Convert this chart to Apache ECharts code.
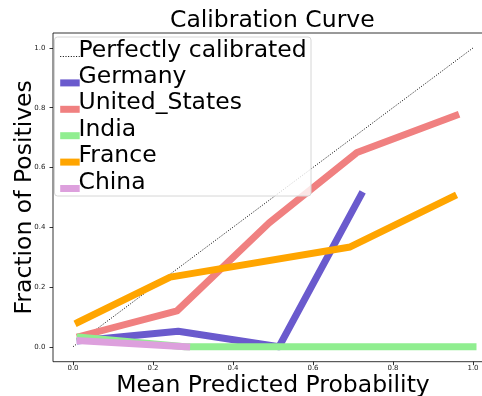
<!DOCTYPE html>
<html>
<head>
<meta charset="utf-8">
<script src="https://cdn.jsdelivr.net/npm/echarts@6/dist/echarts.min.js"></script>
<style>
  html, body { margin: 0; padding: 0; background: #fff; }
  #chart { width: 482px; height: 396px; }
</style>
</head>
<body>
<div id="chart"></div>
<script>
// Reliability diagram: mean predicted probability vs. observed fraction of positives
const tickValues = [0.0, 0.2, 0.4, 0.6, 0.8, 1.0];

const perfectX = [0, 1];
const perfectY = [0, 1];

const germanyX = [0.018, 0.263, 0.515, 0.72];
const germanyY = [0.02, 0.052, 0.0, 0.508];

const usX = [0.018, 0.26, 0.49, 0.71, 0.957];
const usY = [0.035, 0.12, 0.414, 0.65, 0.774];

const indiaX = [0.018, 0.28, 1.0];
const indiaY = [0.032, 0.0, 0.0];

const franceX = [0.013, 0.243, 0.693, 0.951];
const franceY = [0.082, 0.233, 0.334, 0.503];

const chinaX = [0.018, 0.284];
const chinaY = [0.02, 0.0];

const legendNames = ['Perfectly calibrated', 'Germany', 'United_States', 'India', 'France', 'China'];

const FONT = 'DejaVu Sans';
const BIG = 23.5;

function pairs(xs, ys) {
  return xs.map((x, i) => [x, ys[i]]);
}

function curve(name, xs, ys, color) {
  return {
    name: name,
    type: 'line',
    data: pairs(xs, ys),
    symbol: 'none',
    silent: true,
    lineStyle: { color: color, width: 7, cap: 'square', join: 'round' },
    itemStyle: { color: color }
  };
}

const chart = echarts.init(document.getElementById('chart'), null, { renderer: 'canvas' });

const axisCommon = {
  type: 'value',
  min: -0.05,
  max: 1.05,
  splitLine: { show: false },
  axisLine: { show: false, onZero: false },
  axisTick: {
    show: true,
    inside: false,
    length: 3.5,
    lineStyle: { color: '#000', width: 0.8 },
    customValues: tickValues
  },
  axisLabel: {
    fontFamily: FONT,
    fontSize: 7,
    color: '#222',
    customValues: tickValues,
    formatter: v => v.toFixed(1)
  },
  nameLocation: 'middle',
  nameMoveOverlap: false,
  nameTextStyle: { fontFamily: FONT, fontSize: BIG, color: '#000' }
};

// Two stacked legends: one draws the line handles, the other the labels,
// so the handles can sit a little below the text centre.
const legendBase = {
  orient: 'vertical',
  padding: 0,
  itemWidth: 19.5,
  itemHeight: 14,
  itemGap: 2.4,
  selectedMode: false,
  data: legendNames
};

chart.setOption({
  animation: false,
  backgroundColor: '#fff',
  title: {
    text: 'Calibration Curve',
    left: 170,
    top: 9,
    padding: 0,
    textStyle: { fontFamily: FONT, fontSize: BIG, fontWeight: 'normal', color: '#000' }
  },
  grid: {
    left: 53,
    top: 33,
    width: 440,
    height: 328.7,
    containLabel: false,
    outerBoundsMode: 'none',
    show: true,
    borderColor: '#000',
    borderWidth: 0.8,
    backgroundColor: 'transparent'
  },
  xAxis: Object.assign({}, axisCommon, {
    name: 'Mean Predicted Probability',
    nameGap: 12,
    axisLabel: Object.assign({}, axisCommon.axisLabel, { margin: 3 })
  }),
  yAxis: Object.assign({}, axisCommon, {
    name: 'Fraction of Positives',
    nameGap: 16,
    axisLabel: Object.assign({}, axisCommon.axisLabel, { margin: 7.5 })
  }),
  legend: [
    Object.assign({}, legendBase, {
      id: 'handles',
      left: 56.7,
      top: 44.5,
      z: 11,
      lineStyle: { width: 'inherit', cap: 'butt' },
      itemStyle: { opacity: 0 },
      textStyle: { fontFamily: FONT, fontSize: BIG, lineHeight: 24, color: 'rgba(0,0,0,0)' }
    }),
    Object.assign({}, legendBase, {
      id: 'labels',
      left: 53,
      top: 38.5,
      z: 12,
      lineStyle: { opacity: 0 },
      itemStyle: { opacity: 0 },
      textStyle: { fontFamily: FONT, fontSize: BIG, lineHeight: 24, color: '#000' }
    })
  ],
  graphic: [{
    type: 'rect',
    z: 10,
    silent: true,
    shape: { x: 54.5, y: 37, width: 256.5, height: 159, r: 3 },
    style: { fill: 'rgba(255,255,255,0.8)', stroke: '#d6d6d6', lineWidth: 1 }
  }],
  series: [
    {
      name: 'Perfectly calibrated',
      type: 'line',
      data: pairs(perfectX, perfectY),
      symbol: 'none',
      silent: true,
      lineStyle: { color: '#000', width: 1, type: [1, 1.65] },
      itemStyle: { color: '#000' }
    },
    curve('Germany', germanyX, germanyY, '#6a5acd'),
    curve('United_States', usX, usY, '#f08080'),
    curve('India', indiaX, indiaY, '#90ee90'),
    curve('France', franceX, franceY, '#ffa500'),
    curve('China', chinaX, chinaY, '#dda0dd')
  ]
});
</script>
</body>
</html>
